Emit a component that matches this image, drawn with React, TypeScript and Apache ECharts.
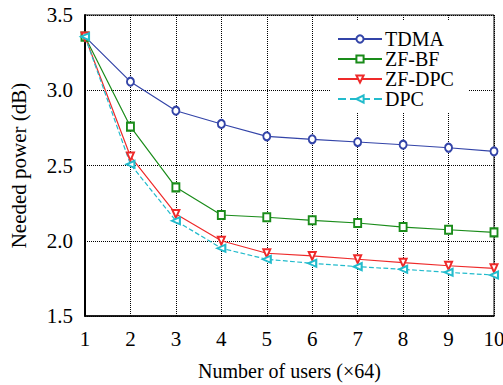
import React, { useEffect, useRef } from "react";
import * as echarts from "echarts";

const users = [1, 2, 3, 4, 5, 6, 7, 8, 9, 10];
const tdma = [3.356, 3.057, 2.864, 2.776, 2.694, 2.674, 2.656, 2.638, 2.618, 2.594];
const zfbf = [3.356, 2.758, 2.355, 2.171, 2.156, 2.136, 2.118, 2.091, 2.073, 2.056];
const zfdpc = [3.356, 2.56, 2.178, 2.0, 1.917, 1.899, 1.877, 1.854, 1.834, 1.817];
const dpc = [3.356, 2.508, 2.133, 1.95, 1.877, 1.85, 1.828, 1.81, 1.79, 1.772];
const seriesNames = ["TDMA", "ZF-BF", "ZF-DPC", "DPC"];

const FONT = "Liberation Serif";

export default function App() {
  const ref = useRef<HTMLDivElement>(null);
  useEffect(() => {
    if (!ref.current) return;
    const chart = echarts.init(ref.current, undefined, { renderer: "svg" });
    const mk = (name: string, data: number[], color: string, symbol: string, rotate: number, dashed: boolean) => ({
      name,
      type: "line",
      data: users.map((u, i) => [u, data[i]]),
      symbol,
      symbolSize: [7, 8],
      symbolRotate: rotate,
      showAllSymbol: true,
      lineStyle: { color, width: 1.2, type: dashed ? "dashed" : "solid" },
      itemStyle: { color, borderColor: color, borderWidth: 1.2 },
    });
    chart.setOption({
      animation: false,
      textStyle: { fontFamily: FONT },
      grid: {
        left: 85, right: 9, top: 15, bottom: 69, show: true, borderColor: "#000", borderWidth: 1,
        backgroundColor: "transparent", outerBoundsMode: "none", containLabel: false,
      },
      legend: {
        orient: "vertical",
        left: 330,
        top: 20,
        itemWidth: 44,
        itemHeight: 9,
        itemGap: 0,
        backgroundColor: "#fff",
        padding: [9, 15, 3, 7],
        textStyle: { fontFamily: FONT, fontSize: 20, color: "#000", fontWeight: "normal", lineHeight: 19, padding: [0, 0, 0, -2] },
        symbolRotate: "inherit",
        data: seriesNames,
      },
      xAxis: {
        type: "value",
        min: 1,
        max: 10,
        interval: 1,
        name: "Number of users (\u00d764)",
        nameLocation: "middle",
        nameGap: 45,
        nameTextStyle: { fontFamily: FONT, fontSize: 20, color: "#000" },
        axisLine: { lineStyle: { color: "#000", width: 1.5 } },
        axisTick: { show: false },
        axisLabel: { fontFamily: FONT, fontSize: 21, color: "#000", margin: 12 },
        splitLine: { show: true, lineStyle: { color: "#000", type: "dotted", width: 1 } },
      },
      yAxis: {
        type: "value",
        min: 1.5,
        max: 3.5,
        interval: 0.5,
        name: "Needed power (dB)",
        nameLocation: "middle",
        nameGap: 56,
        nameTextStyle: { fontFamily: FONT, fontSize: 21, color: "#000" },
        axisLine: { show: true, lineStyle: { color: "#000", width: 2 } },
        axisTick: { show: false },
        axisLabel: { fontFamily: FONT, fontSize: 21, color: "#000", margin: 12, formatter: (v: number) => v.toFixed(1) },
        splitLine: { show: true, lineStyle: { color: "#000", type: "dotted", width: 1 } },
      },
      series: [
        mk(seriesNames[0], tdma, "#3344a8", "emptyCircle", 0, false),
        mk(seriesNames[1], zfbf, "#1a8c1a", "emptyRect", 0, false),
        mk(seriesNames[2], zfdpc, "#ee2a2a", "emptyTriangle", 180, false),
        mk(seriesNames[3], dpc, "#22bbcc", "emptyTriangle", 90, true),
      ],
    });
    return () => chart.dispose();
  }, []);
  return <div ref={ref} style={{ width: 503, height: 385, position: "absolute", left: 0, top: 0 }} />;
}
